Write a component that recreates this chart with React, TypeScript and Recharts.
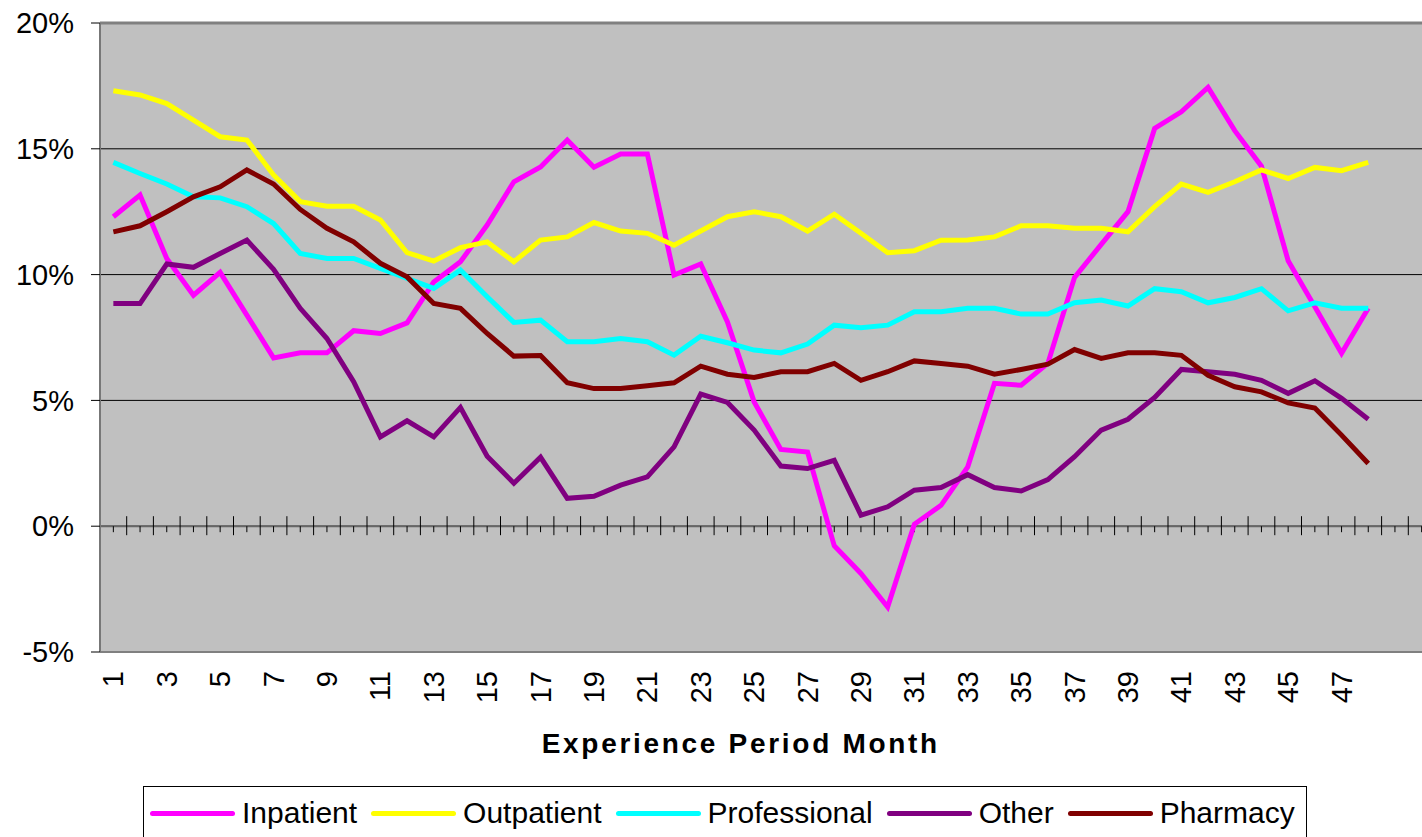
import { LineChart, Line, XAxis, YAxis, CartesianGrid, ReferenceLine, Label } from 'recharts';

const MONTHS = [
  1, 2, 3, 4, 5, 6, 7, 8, 9, 10, 11, 12, 13, 14, 15, 16, 17, 18, 19, 20, 21, 22, 23, 24,
  25, 26, 27, 28, 29, 30, 31, 32, 33, 34, 35, 36, 37, 38, 39, 40, 41, 42, 43, 44, 45, 46, 47, 48,
];

// month slots on the category axis (the plot runs on past the last month)
const SLOTS = 50;

const Y_TICKS = [-5, 0, 5, 10, 15, 20];

const INPATIENT = [
  12.3, 13.16, 10.64, 9.18, 10.09, 8.39, 6.69, 6.89, 6.89, 7.77,
  7.66, 8.08, 9.71, 10.51, 11.97, 13.69, 14.28, 15.35, 14.27, 14.79,
  14.79, 9.98, 10.42, 8.12, 4.94, 3.05, 2.95, -0.78, -1.88, -3.21,
  0.08, 0.83, 2.36, 5.68, 5.6, 6.47, 9.89, 11.2, 12.5, 15.81,
  16.47, 17.44, 15.72, 14.31, 10.55, 8.72, 6.87, 8.66,
];

const OUTPATIENT = [
  17.31, 17.14, 16.8, 16.14, 15.48, 15.35, 13.96, 12.9, 12.72, 12.72,
  12.17, 10.87, 10.54, 11.07, 11.3, 10.51, 11.37, 11.5, 12.07, 11.73,
  11.64, 11.17, 11.73, 12.3, 12.5, 12.3, 11.73, 12.4, 11.64, 10.87,
  10.95, 11.37, 11.38, 11.5, 11.94, 11.94, 11.84, 11.84, 11.7, 12.7,
  13.6, 13.27, 13.69, 14.16, 13.82, 14.26, 14.13, 14.46,
];

const PROFESSIONAL = [
  14.46, 14.02, 13.6, 13.09, 13.05, 12.7, 12.03, 10.84, 10.64, 10.64,
  10.25, 9.85, 9.45, 10.18, 9.12, 8.1, 8.19, 7.33, 7.33, 7.46,
  7.33, 6.8, 7.55, 7.29, 7.0, 6.89, 7.24, 7.99, 7.89, 7.99,
  8.52, 8.52, 8.66, 8.66, 8.43, 8.43, 8.88, 8.99, 8.75, 9.44,
  9.32, 8.88, 9.09, 9.44, 8.56, 8.88, 8.66, 8.66,
];

const OTHER = [
  8.85, 8.85, 10.42, 10.29, 10.84, 11.37, 10.21, 8.66, 7.46, 5.74,
  3.55, 4.19, 3.55, 4.72, 2.78, 1.71, 2.74, 1.11, 1.19, 1.63,
  1.96, 3.15, 5.25, 4.92, 3.82, 2.39, 2.29, 2.62, 0.44, 0.77,
  1.43, 1.54, 2.05, 1.54, 1.4, 1.85, 2.76, 3.82, 4.25, 5.12,
  6.23, 6.14, 6.04, 5.8, 5.28, 5.78, 5.08, 4.25,
];

const PHARMACY = [
  11.7, 11.94, 12.5, 13.09, 13.49, 14.16, 13.6, 12.59, 11.84, 11.3,
  10.45, 9.91, 8.85, 8.66, 7.66, 6.76, 6.78, 5.7, 5.47, 5.47,
  5.58, 5.7, 6.36, 6.04, 5.91, 6.14, 6.14, 6.47, 5.8, 6.14,
  6.57, 6.47, 6.36, 6.04, 6.23, 6.44, 7.02, 6.67, 6.89, 6.89,
  6.79, 6.0, 5.54, 5.34, 4.9, 4.7, 3.62, 2.49,
];

const SERIES = [
  { key: 'inpatient', name: 'Inpatient', color: '#FF00FF', values: INPATIENT },
  { key: 'outpatient', name: 'Outpatient', color: '#FFFF00', values: OUTPATIENT },
  { key: 'professional', name: 'Professional', color: '#00FFFF', values: PROFESSIONAL },
  { key: 'other', name: 'Other', color: '#800080', values: OTHER },
  { key: 'pharmacy', name: 'Pharmacy', color: '#800000', values: PHARMACY },
];

const data = MONTHS.map((m, i) => {
  const row: Record<string, number> = { month: m };
  SERIES.forEach((s) => {
    row[s.key] = s.values[i];
  });
  return row;
});

const LABEL_TICKS = MONTHS.filter((m) => m % 2 === 1);

const FONT = '"Liberation Sans", Arial, sans-serif';

function MonthTick({ x, y, payload }: any) {
  return (
    <text
      x={x}
      y={y}
      transform={`rotate(-90, ${x}, ${y})`}
      textAnchor="end"
      dy="0.35em"
      fontSize={29}
      fontFamily={FONT}
      fill="#000"
    >
      {payload.value}
    </text>
  );
}

// zero line with Excel-style tick marks: long ones on slot edges, short ones at slot centres
function ZeroAxis({ x1, y1, x2 }: any) {
  const bw = (x2 - x1) / SLOTS;
  const marks = [];
  for (let k = 0; k <= SLOTS; k++) {
    const xe = x1 + k * bw;
    marks.push(<line key={`e${k}`} x1={xe} x2={xe} y1={y1 - 10} y2={y1 + 9} stroke="#000" strokeWidth={1} />);
    if (k < SLOTS) {
      const xc = xe + bw / 2;
      marks.push(<line key={`c${k}`} x1={xc} x2={xc} y1={y1} y2={y1 + 6} stroke="#000" strokeWidth={1} />);
    }
  }
  return (
    <g>
      <line x1={x1} x2={x2} y1={y1} y2={y1} stroke="#666" strokeWidth={2} />
      {marks}
    </g>
  );
}

function AxisTitle({ viewBox }: any) {
  const { x, y, width } = viewBox;
  return (
    <text
      x={x + width * 0.48}
      y={y + 91}
      dy="0.35em"
      textAnchor="middle"
      fontSize={28}
      fontWeight="bold"
      letterSpacing={2.7}
      fontFamily={FONT}
      fill="#000"
    >
      Experience Period Month
    </text>
  );
}

function ChartLegend() {
  return (
    <div
      style={{
        position: 'absolute',
        left: 143,
        top: 786,
        width: 1164,
        height: 70,
        border: '1px solid #000',
        background: '#fff',
        boxSizing: 'border-box',
        display: 'flex',
        alignItems: 'flex-start',
        paddingLeft: 6,
      }}
    >
      {SERIES.map((s) => (
        <div key={s.key} style={{ display: 'flex', alignItems: 'center', height: 52, marginRight: 14 }}>
          <span
            style={{
              display: 'inline-block',
              width: 85,
              height: 5,
              borderRadius: 3,
              background: s.color,
              marginRight: 7,
            }}
          />
          <span style={{ fontSize: 30, fontFamily: FONT, color: '#000', lineHeight: '34px' }}>{s.name}</span>
        </div>
      ))}
    </div>
  );
}

export default function App() {
  return (
    <div
      style={{
        position: 'fixed',
        left: 0,
        top: 0,
        width: 1422,
        height: 837,
        overflow: 'hidden',
        background: '#fff',
      }}
    >
      <LineChart width={1440} height={837} data={data} margin={{ top: 23, right: 5, left: 0, bottom: 0 }}>
        <CartesianGrid vertical={false} stroke="#000" strokeWidth={1} fill="#c0c0c0" fillOpacity={1} />
        <XAxis
          dataKey="month"
          type="number"
          domain={[0.5, SLOTS + 0.5]}
          ticks={LABEL_TICKS}
          interval={0}
          height={185}
          axisLine={false}
          tickLine={false}
          tickSize={0}
          tickMargin={19}
          tick={<MonthTick />}
        >
          <Label content={<AxisTitle />} />
        </XAxis>
        <YAxis
          width={100}
          domain={[-5, 20]}
          ticks={Y_TICKS}
          interval={0}
          allowDataOverflow
          tickFormatter={(v) => `${v}%`}
          axisLine={{ stroke: '#777', strokeWidth: 2 }}
          tickLine={{ stroke: '#000' }}
          tickSize={9}
          tickMargin={17}
          tick={{ fontSize: 29, fill: '#000', fontFamily: FONT }}
        />
        <ReferenceLine y={20} stroke="#808080" strokeWidth={3} />
        <ReferenceLine y={-5} stroke="#808080" strokeWidth={2} />
        <ReferenceLine y={0} shape={<ZeroAxis />} />
        {SERIES.map((s) => (
          <Line
            key={s.key}
            type="linear"
            dataKey={s.key}
            name={s.name}
            stroke={s.color}
            strokeWidth={5}
            dot={false}
            activeDot={false}
            isAnimationActive={false}
          />
        ))}
      </LineChart>
      <ChartLegend />
    </div>
  );
}
